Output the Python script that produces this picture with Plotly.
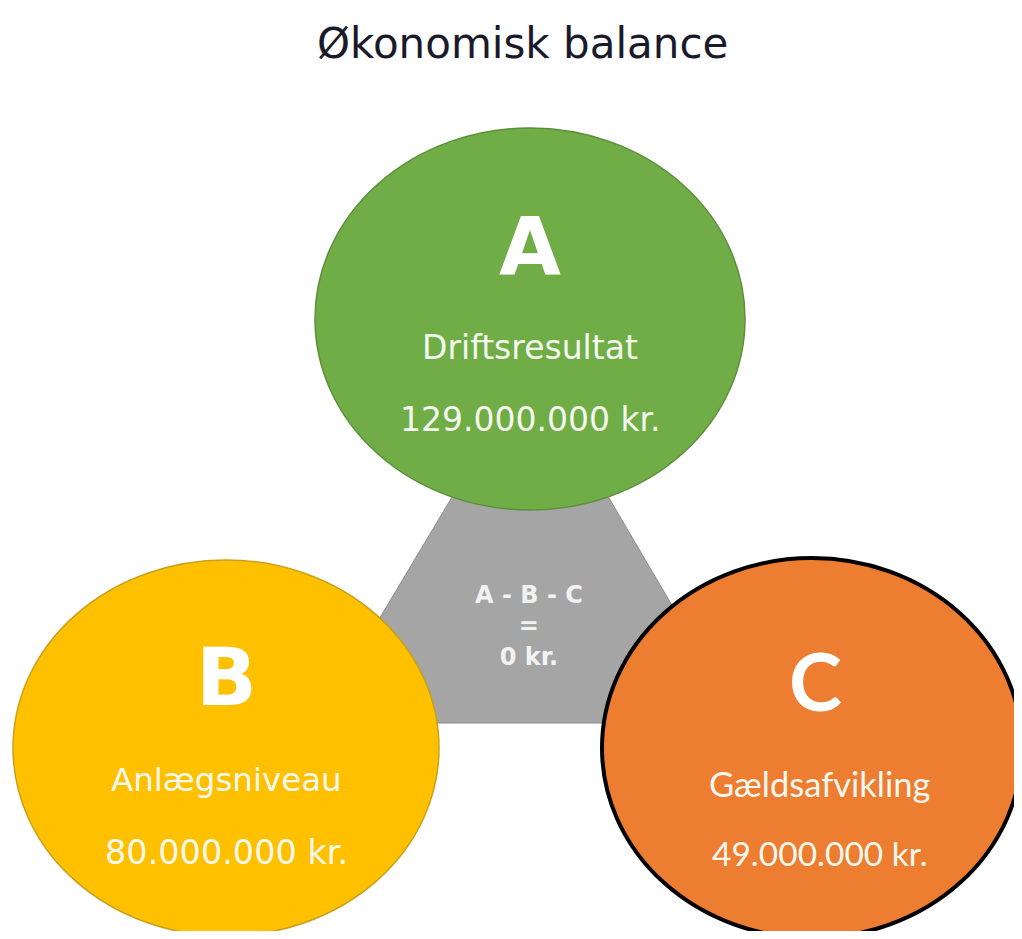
import plotly.graph_objects as go

# ---- data ----
title = "Økonomisk balance"
letters = ["A", "B", "C"]
names = ["Driftsresultat", "Anlægsniveau", "Gældsafvikling"]
values = [129_000_000, 80_000_000, 49_000_000]
currency = "kr."
balance = values[0] - values[1] - values[2]

# ---- styling / layout (pixel space) ----
W, H = 1022, 939
PAD = 8  # default page body margin
fills = ["#70ad47", "#ffc000", "#ed7d31"]
borders = ["#5b8f3a", "#c9a01a", "#000000"]
border_w = [1.5, 1.5, 4]
centers = [(530, 319), (226, 748), (812, 748)]
radii = [(215, 191), (213, 188), (210, 190)]
label_fonts = ["DejaVu Sans", "DejaVu Sans", "Lato"]
name_sizes = [33, 32.5, 34.5]
val_sizes = [33, 33.5, 33.5]
tri = [(531, 365), (317, 723), (741, 723)]


def fmt(v):
    return f"{v:,}".replace(",", ".") + " " + currency


fig = go.Figure()

fig.add_trace(go.Scatter(x=[PAD, W - PAD], y=[PAD, H - PAD], mode="markers",
                         marker=dict(opacity=0), hoverinfo="skip", showlegend=False))

shapes = []
path = "M {} {} L {} {} L {} {} Z".format(tri[0][0], tri[0][1], tri[1][0], tri[1][1], tri[2][0], tri[2][1])
shapes.append(dict(type="path", path=path, xref="x", yref="y",
                   fillcolor="#a5a5a5", line=dict(color="#8c8c8c", width=1), layer="above"))
for (cx, cy), (rx, ry), fc, bc, bw in zip(centers, radii, fills, borders, border_w):
    shapes.append(dict(type="circle", xref="x", yref="y",
                       x0=cx - rx, x1=cx + rx, y0=cy - ry, y1=cy + ry,
                       fillcolor=fc, line=dict(color=bc, width=bw), layer="above"))

annotations = []
annotations.append(dict(x=522, y=43, xref="x", yref="y", text=title, showarrow=False,
                        font=dict(family="DejaVu Sans", size=42, color="#1a1a2a")))
offs_letter = [-72, -71, -68]
offs_name = [28, 32, 35]
offs_val = [100, 104, 105]
for i, ((cx, cy), L, n, v, ff) in enumerate(zip(centers, letters, names, values, label_fonts)):
    annotations.append(dict(x=cx + (3 if i == 2 else 0), y=cy + offs_letter[i], xref="x", yref="y",
                            text=f"<b>{L}</b>", showarrow=False,
                            font=dict(family=ff, size=80, color="#ffffff")))
    annotations.append(dict(x=cx + (8 if i == 2 else 0), y=cy + offs_name[i], xref="x", yref="y", text=n,
                            showarrow=False, font=dict(family=ff, size=name_sizes[i], color="#f4f8ee")))
    annotations.append(dict(x=cx + (8 if i == 2 else 0), y=cy + offs_val[i], xref="x", yref="y", text=fmt(v),
                            showarrow=False, font=dict(family=ff, size=val_sizes[i], color="#f4f8ee")))

annotations.append(dict(x=529, y=626, xref="x", yref="y",
                        text="<b>A - B - C</b><br><b>=</b><br><b>" + fmt(balance) + "</b>",
                        showarrow=False, align="center",
                        font=dict(family="DejaVu Sans", size=24, color="#f2f2f2")))

fig.update_layout(
    width=W - 2 * PAD, height=H - 2 * PAD, autosize=False,
    margin=dict(l=0, r=0, t=0, b=0),
    paper_bgcolor="white", plot_bgcolor="white",
    xaxis=dict(range=[PAD, W - PAD], visible=False, fixedrange=True),
    yaxis=dict(range=[H - PAD, PAD], visible=False, fixedrange=True),
    shapes=shapes, annotations=annotations, showlegend=False,
)

fig.write_html("out.html")
